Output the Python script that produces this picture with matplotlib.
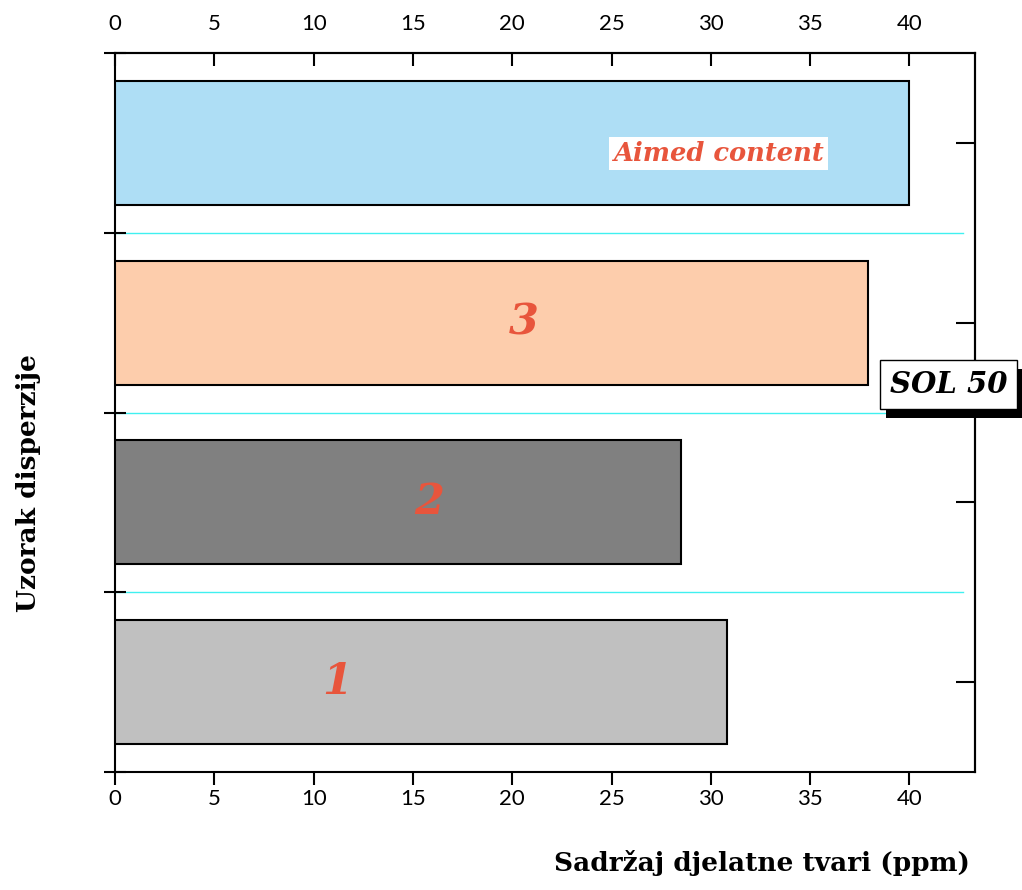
import numpy as np
import matplotlib
matplotlib.use("Agg")
import matplotlib.pyplot as plt
from matplotlib.patches import Rectangle

# data (bottom to top)
samples = ["1", "2", "3", "Aimed content"]
content = [30.8, 28.5, 37.9, 40.0]
colors = ["#c0c0c0", "#808080", "#fdcdac", "#aedef5"]
xticks = [0, 5, 10, 15, 20, 25, 30, 35, 40]

fig = plt.figure(figsize=(10.22, 8.9), dpi=100)
ax = fig.add_axes([0.1125, 0.1326, 0.8415, 0.8078])

ypos = np.arange(len(samples)) + 0.5
ax.barh(ypos, content, height=0.69, color=colors, edgecolor="black", linewidth=1.5, zorder=3)

# cyan separators between samples
for yb in [1, 2, 3]:
    ax.plot([0, 42.7], [yb, yb], color="#40f0f0", linewidth=1.0, zorder=1)

ax.set_xlim(0, 43.3)
ax.set_ylim(0, 4)

red = "#e8553c"
serif = "DejaVu Serif"
for y, lab in zip(ypos[:3], samples[:3]):
    xc = {"1": 11.2, "2": 15.8, "3": 20.6}[lab]
    ax.text(xc, y, lab, color=red, fontsize=31, fontweight="bold", fontstyle="italic",
            family=serif, ha="center", va="center", zorder=4)
ax.text(30.4, ypos[3] - 0.06, samples[3], color=red, fontsize=18.5, fontweight="bold",
        fontstyle="italic", family=serif, ha="center", va="center", zorder=4,
        bbox=dict(facecolor="white", edgecolor="none", pad=3))

# bottom ticks outward, top ticks inward
ax.set_xticks(xticks)
ax.tick_params(axis="x", direction="out", labelsize=16, width=1.5, length=9, top=False)
for lbl in ax.get_xticklabels():
    lbl.set_family("Lato")
top = ax.secondary_xaxis("top")
top.set_xticks(xticks)
top.tick_params(direction="in", labelsize=16, width=1.5, length=9, pad=14)
for lbl in top.get_xticklabels():
    lbl.set_family("Lato")
top.spines["top"].set_linewidth(1.5)

ax.set_yticks([0, 1, 2, 3, 4])
ax.set_yticklabels([])
ax.tick_params(axis="y", direction="inout", length=16, width=1.5, left=True, right=False)

sec = ax.secondary_yaxis("right")
sec.set_yticks(ypos)
sec.set_yticklabels([])
sec.tick_params(direction="in", length=14, width=1.5)
sec.spines["right"].set_linewidth(1.5)

for s in ax.spines.values():
    s.set_linewidth(1.5)

fig.text(0.746, 0.016, "Sadržaj djelatne tvari (ppm)", fontsize=19, fontweight="bold",
         family=serif, ha="center", va="bottom")
fig.text(0.016, 0.457, "Uzorak disperzije", fontsize=19, fontweight="bold",
         family=serif, ha="left", va="center", rotation=90)

# SOL 50 box with drop shadow
sol = fig.text(0.928, 0.568, "SOL 50", fontsize=21, fontweight="bold", fontstyle="italic",
               family=serif, color="black", ha="center", va="center", zorder=5,
               bbox=dict(facecolor="white", edgecolor="black", linewidth=1, pad=7))
fig.canvas.draw()
bb = sol.get_bbox_patch().get_window_extent()
fig.patches.append(Rectangle((bb.x0 + 6, bb.y0 - 9), bb.width, bb.height,
                             transform=None, facecolor="black", edgecolor="none", zorder=4))

fig.savefig("out.png", dpi=100)
